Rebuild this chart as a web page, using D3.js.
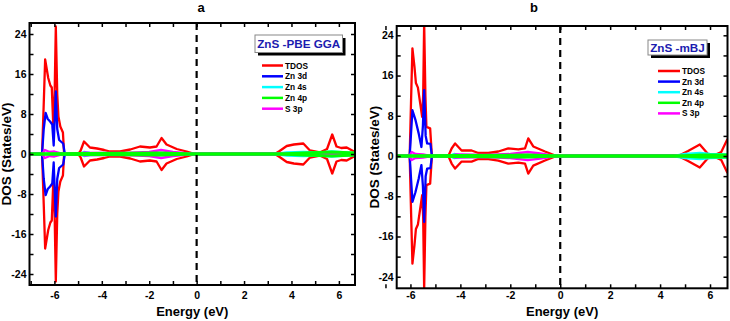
<!DOCTYPE html>
<html><head><meta charset="utf-8">
<script src="https://cdn.jsdelivr.net/npm/d3@7"></script>
<style>
html,body{margin:0;padding:0;background:#fff;}
svg{display:block;font-family:"Liberation Sans",Arial,sans-serif;font-weight:bold;}
</style></head><body>
<svg id="c" width="730" height="321"></svg>
<script>
// ---------- DATA ----------
const panelTitles = ["a", "b"];
const methodLabels = ["ZnS -PBE GGA", "ZnS -mBJ"];
const seriesNames = ["TDOS", "Zn 3d", "Zn 4s", "Zn 4p", "S 3p"];
const seriesColors = ["#ff0000", "#0000ff", "#00ffff", "#00ff00", "#ff00ff"];
const yMajorTicks = [-24, -16, -8, 0, 8, 16, 24];
const yMinorTicks = [-20, -12, -4, 4, 12, 20];
const xMajorTicks = [-6, -4, -2, 0, 2, 4, 6];
const xMinorTicks = [-7, -5, -3, -1, 1, 3, 5];

// Panel a (PBE-GGA): [energy, DOS] (spin-down mirrored)
const aTDOS = [[-7.05,0],[-6.52,0],[-6.45,10],[-6.39,18.9],[-6.26,15.2],[-6.17,13.7],[-6.11,13.3],[-6.05,6],[-5.99,12],[-5.94,25.5],[-5.88,12],[-5.83,7.5],[-5.75,5.5],[-5.64,4.3],[-5.59,0],[-5.0,0],[-4.9,0.6],[-4.75,2.5],[-4.5,1.3],[-4.2,1.1],[-3.9,0.8],[-3.65,0.5],[-3.23,0.5],[-2.8,0.9],[-2.39,1.5],[-1.97,1.3],[-1.69,1.5],[-1.48,3.2],[-1.27,1.9],[-0.84,1.0],[-0.42,0.5],[-0.07,0],[3.3,0],[3.5,0.6],[3.8,1.6],[4.1,1.9],[4.5,2.1],[4.78,0.7],[5.2,0.3],[5.5,1.0],[5.72,3.9],[5.9,1.5],[6.1,1.2],[6.33,1.3],[6.6,0.6],[6.68,0.3]];
const aZn3d = [[-7.05,0],[-6.52,0],[-6.45,5],[-6.37,8.2],[-6.28,7],[-6.18,6.5],[-6.09,5.9],[-6.03,1.7],[-5.98,8],[-5.94,12.5],[-5.88,5],[-5.8,2.8],[-5.63,2.1],[-5.56,0],[6.68,0]];
const aZn4s = [[-7.05,0],[-4.95,0],[-4.75,0.4],[-4.5,0.2],[-3.5,0.1],[-1.5,0.2],[0,0],[3.3,0],[3.8,0.3],[4.5,0.4],[5.2,0.3],[5.7,0.5],[6.3,0.3],[6.68,0.2]];
const aZn4p = [[-7.05,0],[-4.8,0.1],[-1.5,0.2],[0,0],[3.5,0],[4.5,0.2],[5.7,0.4],[6.68,0.2]];
const aS3p = [[-7.05,0],[-6.52,0],[-6.4,0.8],[-6.2,0.4],[-6.0,0.5],[-5.6,0],[-4.95,0],[-4.75,0.3],[-4.5,0.2],[-3.0,0.2],[-2.0,0.4],[-1.5,0.8],[-1.0,0.4],[-0.1,0],[6.68,0]];

// Panel b (mBJ)
const bTDOS = [[-6.55,0],[-6.03,0],[-5.97,12],[-5.92,21.4],[-5.84,17.8],[-5.78,14.5],[-5.7,13.6],[-5.61,10.5],[-5.53,7.8],[-5.49,12],[-5.45,26.5],[-5.4,12],[-5.36,5.8],[-5.21,5.5],[-5.14,0],[-4.48,0],[-4.35,1.5],[-4.21,2.5],[-3.95,1.1],[-3.55,1.1],[-3.28,0.6],[-2.88,0.6],[-2.48,0.9],[-2.08,1.5],[-1.68,1.3],[-1.41,1.5],[-1.28,3.5],[-1.08,1.9],[-0.61,0.9],[-0.15,0],[4.72,0],[5.12,1.0],[5.59,2.3],[5.92,0.4],[6.19,0.2],[6.45,0.8],[6.7,3.4]];
const bZn3d = [[-6.55,0],[-6.03,0],[-5.97,5],[-5.92,9.1],[-5.85,8],[-5.8,7.2],[-5.67,4.5],[-5.56,1.8],[-5.5,6],[-5.45,13.1],[-5.39,4],[-5.33,2.5],[-5.2,2.4],[-5.14,0],[6.7,0]];
const bZn4s = [[-6.55,0],[-4.45,0],[-4.25,0.4],[-4.0,0.2],[-3.0,0.1],[-1.3,0.2],[0,0],[4.5,0],[5.0,0.4],[5.6,0.6],[6.0,0.4],[6.7,0.3]];
const bZn4p = [[-6.55,0],[-4.2,0.1],[-1.3,0.2],[0,0],[4.8,0],[5.6,0.2],[6.7,0.2]];
const bS3p = [[-6.55,0],[-6.05,0],[-5.95,0.8],[-5.8,0.4],[-5.5,0.3],[-5.14,0],[-4.45,0],[-4.2,0.3],[-3.0,0.2],[-2.0,0.4],[-1.3,0.8],[-0.8,0.5],[-0.15,0],[6.7,0]];

const panelSeries = [[aTDOS, aZn3d, aZn4s, aZn4p, aS3p],[bTDOS, bZn3d, bZn4s, bZn4p, bS3p]];
const xDomains = [[-7.05, 6.68], [-6.55, 6.7]];
const yDomains = [[-26.2, 26.2], [-26.3, 25.85]];

// ---------- LAYOUT ----------
const layouts = [
  {x0:29.5, x1:355, y0:23, y1:285, titleX:201, ylabX:10.5, xPad:6.5, legBox:[255,35,87.5,17.5], legLineX:[262,283], legRowY:65.5, legGap:10.8},
  {x0:396.7, x1:727.5, y0:26, y1:288.3, titleX:534, ylabX:379, xPad:3.5, legBox:[648,40,59,15], legLineX:[658,680], legRowY:71, legGap:10.6}
];
const svg = d3.select("#c");
const drawOrder = [0,1,2,4,3];

layouts.forEach((L, p) => {
  const x = d3.scaleLinear().domain(xDomains[p]).range([L.x0, L.x1]);
  const y = d3.scaleLinear().domain(yDomains[p]).range([L.y1, L.y0]);
  const g = svg.append("g");
  const clipId = "clip" + p;
  svg.append("clipPath").attr("id", clipId).append("rect")
    .attr("x", L.x0).attr("y", L.y0).attr("width", L.x1 - L.x0).attr("height", L.y1 - L.y0);
  const plot = g.append("g").attr("clip-path", `url(#${clipId})`);

  drawOrder.forEach(si => {
    const data = panelSeries[p][si];
    const w = si === 3 ? 3 : 2.3;
    [1, -1].forEach(sign => {
      const line = d3.line().x(d => x(d[0])).y(d => y(sign * d[1]));
      plot.append("path").attr("d", line(data)).attr("fill", "none")
        .attr("stroke", seriesColors[si]).attr("stroke-width", w).attr("stroke-linejoin", "round");
    });
  });

  // Fermi level dashed line
  plot.append("line").attr("x1", x(0)).attr("x2", x(0)).attr("y1", L.y0).attr("y2", L.y1)
    .attr("stroke", "#000").attr("stroke-width", 2.2).attr("stroke-dasharray", "7,5");

  // axes
  const fmt = d => String(d);
  const styleAxis = sel => {
    sel.select(".domain").remove();
    sel.selectAll("line").attr("stroke", "#000").attr("stroke-width", 1.5);
    sel.selectAll("text").attr("font-size", "10.5px").attr("font-weight", "bold")
      .attr("font-family", '"Liberation Sans",Arial,sans-serif').attr("fill", "#000");
  };
  g.append("g").attr("transform", `translate(${L.x0},0)`)
    .call(d3.axisLeft(y).tickValues(yMajorTicks).tickFormat(fmt).tickSizeInner(-4).tickSizeOuter(0).tickPadding(3)).call(styleAxis);
  g.append("g").attr("transform", `translate(${L.x0},0)`)
    .call(d3.axisLeft(y).tickValues(yMinorTicks).tickFormat("").tickSizeInner(-4).tickSizeOuter(0)).call(styleAxis);
  g.append("g").attr("transform", `translate(${L.x1},0)`)
    .call(d3.axisRight(y).tickValues(yMajorTicks.concat(yMinorTicks)).tickFormat("").tickSizeInner(-4).tickSizeOuter(0)).call(styleAxis);
  g.append("g").attr("transform", `translate(0,${L.y1})`)
    .call(d3.axisBottom(x).tickValues(xMajorTicks).tickFormat(fmt).tickSizeInner(-4).tickSizeOuter(0).tickPadding(L.xPad)).call(styleAxis);
  g.append("g").attr("transform", `translate(0,${L.y1})`)
    .call(d3.axisBottom(x).tickValues(xMinorTicks).tickFormat("").tickSizeInner(-4).tickSizeOuter(0)).call(styleAxis);
  g.append("g").attr("transform", `translate(0,${L.y0})`)
    .call(d3.axisTop(x).tickValues(xMajorTicks.concat(xMinorTicks)).tickFormat("").tickSizeInner(-4).tickSizeOuter(0)).call(styleAxis);

  // frame
  g.append("rect").attr("x", L.x0).attr("y", L.y0).attr("width", L.x1 - L.x0).attr("height", L.y1 - L.y0)
    .attr("fill", "none").attr("stroke", "#000").attr("stroke-width", 2);

  // titles / labels
  svg.append("text").attr("x", L.titleX).attr("y", 12).attr("text-anchor", "middle")
    .attr("font-size", "13px").text(panelTitles[p]);
  svg.append("text").attr("x", (L.x0 + L.x1) / 2).attr("y", 315.5).attr("text-anchor", "middle")
    .attr("font-size", "13px").text("Energy (eV)");
  svg.append("text").attr("transform", `translate(${L.ylabX},${(L.y0 + L.y1) / 2}) rotate(-90)`)
    .attr("text-anchor", "middle").attr("font-size", "13.5px").text("DOS (States/eV)");

  // legend
  const [bx, by, bw, bh] = L.legBox;
  svg.append("rect").attr("x", bx + 3).attr("y", by + 3).attr("width", bw).attr("height", bh).attr("fill", "#000");
  svg.append("rect").attr("x", bx).attr("y", by).attr("width", bw).attr("height", bh)
    .attr("fill", "#fff").attr("stroke", "#888").attr("stroke-width", 1);
  svg.append("text").attr("x", bx + bw / 2).attr("y", by + bh / 2 + 4.2).attr("text-anchor", "middle")
    .attr("font-size", "11.7px").attr("fill", "#1c1cb0").text(methodLabels[p]);
  seriesNames.forEach((name, i) => {
    const yy = L.legRowY + i * L.legGap;
    svg.append("line").attr("x1", L.legLineX[0]).attr("x2", L.legLineX[1]).attr("y1", yy).attr("y2", yy)
      .attr("stroke", seriesColors[i]).attr("stroke-width", 2.5);
    svg.append("text").attr("x", L.legLineX[1] + 2).attr("y", yy + 3).attr("font-size", "8.3px").text(name);
  });
});
</script>
</body></html>
